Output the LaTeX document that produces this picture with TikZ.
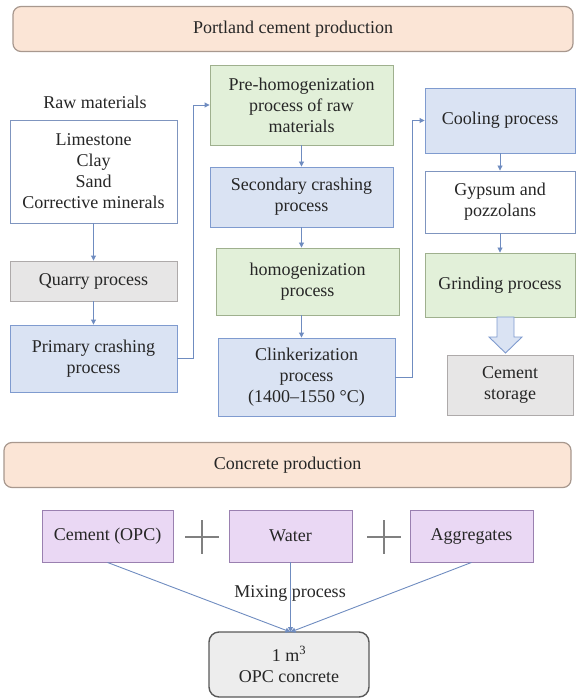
\documentclass[tikz,border=0pt]{standalone}
\usepackage{fontspec}
\setmainfont{Liberation Serif}
\usetikzlibrary{arrows.meta}
\definecolor{txt}{HTML}{262626}
\definecolor{bluefill}{HTML}{DAE3F3}
\definecolor{blueline}{HTML}{7F9BCF}
\definecolor{greenfill}{HTML}{E2F0D9}
\definecolor{greenline}{HTML}{9FB08E}
\definecolor{grayfill}{HTML}{E7E6E6}
\definecolor{grayline}{HTML}{AEAAAA}
\definecolor{peachfill}{HTML}{FBE5D6}
\definecolor{peachline}{HTML}{A8988E}
\definecolor{purpfill}{HTML}{EAD8F4}
\definecolor{purpline}{HTML}{9A80B0}
\definecolor{opcfill}{HTML}{EDEDED}
\definecolor{opcline}{HTML}{595959}
\definecolor{arrcol}{HTML}{6F8CC0}

\begin{document}
\begin{tikzpicture}[x=1pt, y=-1pt,
  every node/.style={align=center, text=txt, font=\fontsize{18}{21}\selectfont},
  box/.style={draw, rectangle, line width=0.9pt, inner sep=0pt},
  bluebox/.style={box, fill=bluefill, draw=blueline},
  greenbox/.style={box, fill=greenfill, draw=greenline},
  graybox/.style={box, fill=grayfill, draw=grayline},
  whitebox/.style={box, fill=white, draw=blueline!80!gray},
  purpbox/.style={box, fill=purpfill, draw=purpline, minimum height=52pt},
  banner/.style={draw=peachline, fill=peachfill, rounded corners=8pt, line width=1.2pt, minimum height=45pt},
  arr/.style={draw=arrcol, line width=0.9pt, -{Triangle[length=5pt,width=5pt]}},
  plus/.style={draw=gray, line width=1.1pt},
  bigarrow/.style={draw=blueline, fill=bluefill, line width=0.9pt, line join=miter}]
  \useasboundingbox (0,0) rectangle (576,700);

  \node[banner, minimum width=560pt] (pcp) at (293,29) {Portland cement production};

  \node (rawlbl) at (95,102) {Raw materials};
  \node[whitebox, minimum width=167pt, minimum height=103pt] (raw) at (93.5,171.5) {Limestone\\Clay\\Sand\\Corrective minerals};
  \node[graybox, minimum width=167pt, minimum height=40pt] (quarry) at (93.5,281) {Quarry process};
  \node[bluebox, minimum width=167pt, minimum height=67pt] (primary) at (93.5,358.5) {Primary crashing\\process};

  \node[greenbox, minimum width=183pt, minimum height=80pt] (prehomog) at (301.5,105) {Pre-homogenization\\process of raw\\materials};
  \node[bluebox, minimum width=183pt, minimum height=60pt] (secondary) at (301.5,197) {Secondary crashing\\process};
  \node[greenbox, minimum width=183pt, minimum height=67pt] (homog) at (307.5,281.5) {homogenization\\process};
  \node[bluebox, minimum width=177pt, minimum height=78pt] (clinker) at (306.5,377) {Clinkerization\\process\\(1400–1550 °C)};

  \node[bluebox, minimum width=150pt, minimum height=65pt] (cooling) at (500,120.5) {Cooling process};
  \node[whitebox, minimum width=150pt, minimum height=62pt] (gypsum) at (500,202) {Gypsum and\\pozzolans};
  \node[greenbox, minimum width=150pt, minimum height=64pt] (grinding) at (500,285) {Grinding process};
  \node[graybox, minimum width=126pt, minimum height=60pt] (storage) at (510,385) {Cement\\storage};
  \draw[bigarrow] (497,317) -- (514,317) -- (514,337) -- (522,337) -- (505.5,353)
    -- (489,337) -- (497,337) -- cycle;

  \coordinate (k1) at (193,358.5);
  \coordinate (k2) at (412,377);
  \draw[arr] (raw) -- (quarry);
  \draw[arr] (quarry) -- (primary);
  \draw[arr] (primary.east) -- (k1) |- (prehomog.west);
  \draw[arr] (prehomog.south) -- (prehomog.south |- secondary.north);
  \draw[arr] (secondary.south) -- (secondary.south |- homog.north);
  \draw[arr] (secondary.south |- homog.south) -- (secondary.south |- clinker.north);
  \draw[arr] (clinker.east) -- (k2) |- (cooling.west);
  \draw[arr] (cooling) -- (gypsum);
  \draw[arr] (gypsum) -- (grinding);

  \node[banner, minimum width=567pt] (cp) at (287.5,465) {Concrete production};

  \node[purpbox, minimum width=131pt] (cement) at (107.5,536) {Cement (OPC)};
  \node[purpbox, minimum width=123pt] (water) at (290.5,536) {Water};
  \node[purpbox, minimum width=123pt] (aggr) at (471.5,536) {Aggregates};
  \coordinate (p1) at (202,537);
  \coordinate (p2) at (384,537);
  \draw[plus] (p1) +(-17,0) -- +(17,0) (p1) +(0,-17) -- +(0,17);
  \draw[plus] (p2) +(-17,0) -- +(17,0) (p2) +(0,-17) -- +(0,17);

  \node[draw=opcline, fill=opcfill, rounded corners=10pt, line width=1.4pt, minimum width=160pt, minimum height=65pt] (opc) at (289,664.5) {1 m\textsuperscript{3}\\OPC concrete};
  \coordinate (mix) at (290.5,632);
  \draw[arr] (cement.south) -- (mix);
  \draw[arr] (water.south) -- (mix);
  \draw[arr] (aggr.south) -- (mix);
  \node (mixlbl) at (290,593) {Mixing process};
\end{tikzpicture}
\end{document}
